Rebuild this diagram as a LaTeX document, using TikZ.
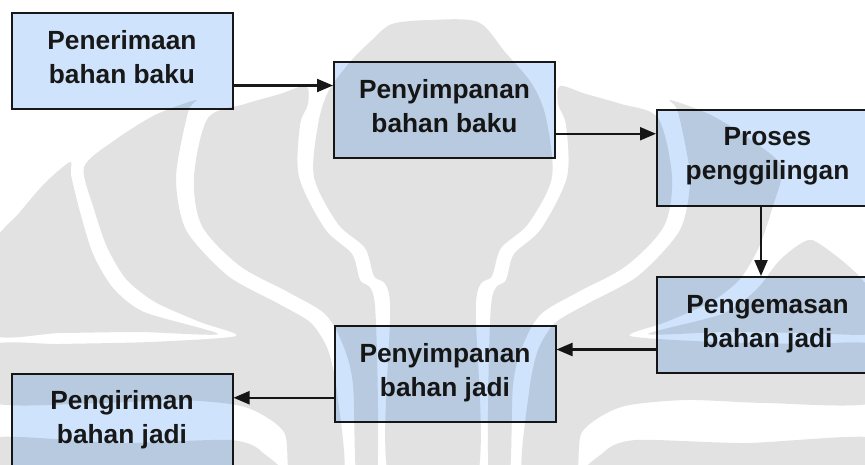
\documentclass[tikz,border=0pt]{standalone}
\usepackage{fontspec}
\setmainfont{Liberation Sans}
\usetikzlibrary{arrows.meta,calc}

\definecolor{boxfill}{RGB}{207,228,252}
\definecolor{ink}{RGB}{24,24,24}
\definecolor{emblemgray}{RGB}{226,226,226}

\tikzset{
  stage/.style={draw=ink, line width=2pt, fill=boxfill,
    minimum width=221pt, minimum height=96pt, inner sep=0pt,
    align=center, text=ink, font=\bfseries\fontsize{26.3}{34}\selectfont},
  flow/.style={draw=ink, line width=2.2pt, -{Triangle[length=16pt,width=13pt]}},
  emblem/.style={fill=emblemgray, draw=none},
}

% two-line label whose baselines sit 36pt below the top and 26pt above the bottom
\newcommand{\twolines}[2]{\rule{0pt}{36pt}#1\\#2\rule[-26pt]{0pt}{26pt}}

% leaves of the faint emblem that appear on both sides (left version; mirrored for the right)
\newcommand{\emblemleaves}{%
  % inner leaf beside the central flame
  \fill[emblem] plot[smooth cycle, tension=0.5] coordinates {
    (306,86) (308,104) (300,125) (299,177) (325,229) (352,254) (360,280)
    (375,306) (377,480) (357,480) (353,385) (343,345) (325,314) (288,292)
    (240,266) (202,226) (194,177) (208,118) (245,104) (280,94)};
  % second leaf sweeping into the lower band
  \fill[emblem] plot[smooth cycle, tension=0.45] coordinates {
    (196,100) (188,112) (176,177) (186,230) (228,276) (279,304) (311,323)
    (328,350) (337,392) (343,480) (292,480) (284,432) (245,407) (180,400)
    (100,403) (-10,402) (-10,346) (60,344) (150,342) (236,336) (200,322)
    (155,302) (126,279) (107,247) (94,209) (84,167) (115,140) (155,115)};
  % lowest band
  \fill[emblem] plot[smooth cycle, tension=0.45] coordinates {
    (-10,438) (120,443) (230,440) (262,452) (268,480) (-10,480)};
}

\begin{document}
\begin{tikzpicture}[x=1pt, y=-1pt]
  \useasboundingbox (0,0) rectangle (865,464);
  \fill[white] (0,0) rectangle (865,464);
  \clip (0,0) rectangle (865,464);

  % process stages
  \node[stage] (b1) at (122,61)      {\twolines{Penerimaan}{bahan baku}};
  \node[stage] (b2) at (444.5,110)   {\twolines{Penyimpanan}{bahan baku}};
  \node[stage] (b3) at (767.5,157.5) {\twolines{Proses}{penggilingan}};
  \node[stage] (b4) at (767.5,325)   {\twolines{Pengemasan}{bahan jadi}};
  \node[stage] (b5) at (445,374)     {\twolines{Penyimpanan}{bahan jadi}};
  \node[stage] (b6) at (122,421.5)   {\twolines{Pengiriman}{bahan jadi}};

  % connectors, each at the middle of the shared height (or width) of two stages
  \coordinate (m12) at ($(b1.south)!.5!(b2.north)$);
  \coordinate (m23) at ($(b2.south)!.5!(b3.north)$);
  \coordinate (m34) at ([xshift=-6.5pt]b3.south);
  \coordinate (m45) at ($(b4.south)!.5!(b5.north)$);
  \coordinate (m56) at ($(b5.south)!.5!(b6.north)$);

  \draw[flow] (b1.east |- m12) -- (b2.west |- m12);
  \draw[flow] (b2.east |- m23) -- (b3.west |- m23);
  \draw[flow] (m34) -- (m34 |- b4.north);
  \draw[flow] (b4.west |- m45) -- (b5.east |- m45);
  \draw[flow] (b5.west |- m56) -- (b6.east |- m56);

  % faint emblem, multiplied over everything
  \begin{scope}[blend mode=multiply]
    % central flame with a narrow pointed top
    \fill[emblem] plot[smooth cycle, tension=0.5] coordinates {
      (392,24) (430,20) (478,22) (505,52) (532,84) (546,118) (552,177)
      (528,224) (501,248) (492,276) (476,302) (476,480) (390,480) (390,302)
      (374,276) (365,248) (338,224) (314,177) (318,125) (328,92) (350,62)
      (372,40)};
    % left outer crescent
    \fill[emblem] plot[smooth cycle, tension=0.45] coordinates {
      (70,162) (45,183) (20,212) (-10,250) (-10,333) (60,333) (140,332)
      (218,334) (144,312) (113,288) (93,254) (80,212) (71,175)};
    % right outer crescent, sitting lower than the left one
    \fill[emblem] plot[smooth cycle, tension=0.45] coordinates {
      (812,240) (835,255) (858,275) (876,300) (876,333) (806,333) (726,332)
      (648,334) (722,314) (756,290) (778,262) (797,246)};
    \emblemleaves
    \begin{scope}[shift={(866,0)}, xscale=-1]
      \emblemleaves
    \end{scope}
  \end{scope}
\end{tikzpicture}
\end{document}
